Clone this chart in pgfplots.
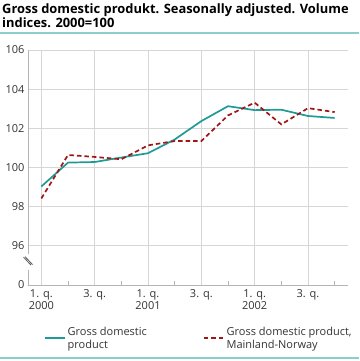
\documentclass[border=0pt]{standalone}
\usepackage{pgfplots}
\pgfplotsset{compat=1.18}
\usepackage{fontspec}
\setmainfont{Open Sans}
\definecolor{gdp}{HTML}{1E9A97}
\definecolor{mld}{HTML}{A01515}
\definecolor{rulec}{HTML}{8ACFCD}
\definecolor{gridc}{HTML}{D6D6D6}
\definecolor{axc}{HTML}{B4B4B4}
\begin{document}
\begin{tikzpicture}[x=1pt,y=1pt]
\path[use as bounding box] (0,0) rectangle (359,-361);
\node[anchor=north west, inner sep=0, align=left, font=\bfseries\fontsize{12.9}{13.6}\selectfont] at (2,-3.5) {Gross domestic produkt. Seasonally adjusted. Volume\\indices. 2000=100};
\draw[rulec, line width=1.2pt] (0,-33) -- (359,-33);
\draw[rulec, line width=1.2pt] (0,-358) -- (359,-358);
\begin{axis}[
  at={(28pt,-285pt)}, anchor=south west, scale only axis,
  width=320pt, height=235pt,
  xmin=-0.5, xmax=11.5, ymin=94, ymax=106,
  axis x line*=bottom, axis y line*=left,
  axis line style={draw=axc, line width=0.8pt, -},
  xtick={0,2,...,10},
  xticklabels={{1. q.\\2000},{3. q.},{1. q.\\2001},{3. q.},{1. q.\\2002},{3. q.}},
  minor xtick={1,3,...,11},
  ytick={94,96,...,106},
  yticklabels={0,96,98,100,102,104,106},
  xmajorgrids, ymajorgrids,
  grid style={draw=gridc, line width=0.8pt},
  major tick length=0pt, minor tick length=4pt,
  tick align=inside,
  minor tick style={draw=axc, line width=0.8pt},
  /pgf/number format/assume math mode=true,
  x tick label style={align=center, font=\fontsize{11}{12.5}\selectfont, text=black!80, yshift=-1pt},
  y tick label style={font=\fontsize{11}{13}\selectfont, text=black!80},
  legend columns=2,
  legend style={at={(0.04,-0.16)}, anchor=north west, draw=none, fill=none,
    font=\fontsize{11}{13}\selectfont, text=black!80,
    nodes={align=left},
    /tikz/every even column/.append style={column sep=54pt}},
  legend cell align=left,
  legend image code/.code={\draw[#1] (0pt,0pt) -- (20pt,0pt);},
  clip=false,
]
\addplot[gdp, line width=1.7pt] coordinates {
(0,99.03)(1,100.25)(2,100.28)(3,100.51)(4,100.73)(5,101.43)(6,102.37)(7,103.13)(8,102.93)(9,102.95)(10,102.63)(11,102.53)};
\addlegendentry{Gross domestic\\product}
\addplot[mld, line width=1.7pt, dash pattern=on 4.5pt off 3pt] coordinates {
(0,98.42)(1,100.64)(2,100.54)(3,100.42)(4,101.13)(5,101.35)(6,101.35)(7,102.66)(8,103.31)(9,102.2)(10,103.03)(11,102.83)};
\addlegendentry{Gross domestic product,\\Mainland-Norway}
\fill[white] ([xshift=-3pt]axis cs:-0.5,94.75) rectangle ([xshift=3pt]axis cs:-0.5,95.6);
\draw[black!65, line width=0.8pt] ([xshift=-4.5pt,yshift=5pt]axis cs:-0.5,95.17) -- ([xshift=3pt,yshift=-3pt]axis cs:-0.5,95.17);
\draw[black!65, line width=0.8pt] ([xshift=-3pt,yshift=5.5pt]axis cs:-0.5,95.17) -- ([xshift=4.5pt,yshift=-2.5pt]axis cs:-0.5,95.17);
\end{axis}
\end{tikzpicture}
\end{document}
